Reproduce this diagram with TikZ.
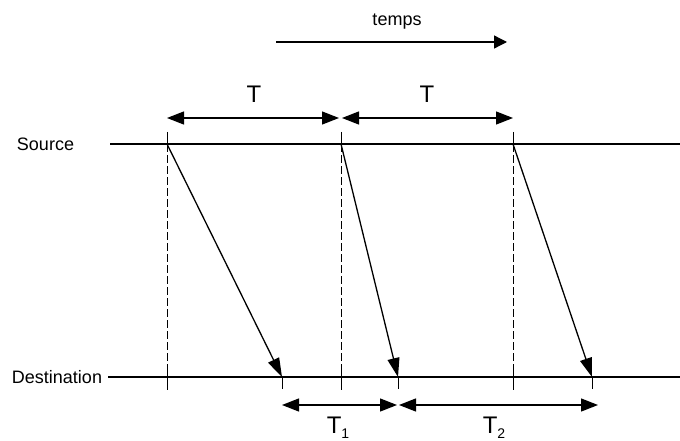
\documentclass[tikz,border=0pt]{standalone}
\usepackage{fontspec}
\setmainfont{Liberation Sans}
\usetikzlibrary{arrows.meta}
\begin{document}
\begin{tikzpicture}[x=1pt,y=-1pt,line width=1.3pt,
  lbl/.style={font=\fontsize{18}{20}\selectfont,inner sep=0pt},
  tlbl/.style={font=\fontsize{24}{26}\selectfont,inner sep=0pt,anchor=base},
  msg/.style={-{Triangle[length=19pt,width=12pt]}},
  span/.style={{Triangle[length=17pt,width=13pt]}-{Triangle[length=17pt,width=13pt]}},
  timearrow/.style={-{Triangle[length=13pt,width=13pt]}},
  guide/.style={line width=0.8pt,dash pattern=on 8pt off 3pt},
  tickline/.style={line width=1pt}]
\useasboundingbox (0,0) rectangle (680,441);
% labels
\node[lbl] (src) at (45.5,144) {Source};
\node[lbl] (dst) at (57,377) {Destination};
\node[lbl] (temps) at (397,22) {temps};
% time axis
\coordinate (tA) at (276,42);
\coordinate (tB) at (507,42);
\draw[timearrow] (tA) -- (tB);
% source / destination lines
\coordinate (srcL) at (110,144);
\coordinate (srcR) at (680,144);
\coordinate (dstL) at (108,377);
\coordinate (dstR) at (680,377);
\draw (srcL) -- (srcR);
\draw (dstL) -- (dstR);
% emission instants
\foreach \i/\x in {1/167,2/341,3/513}{
  \coordinate (s\i) at (\x,144);
  \coordinate (u\i) at (\x,132);
  \coordinate (b\i) at (\x,377);
  \coordinate (bb\i) at (\x,390);
  \coordinate (h\i) at (\x,118);
}
% reception instants
\foreach \i/\x in {1/282,2/398,3/592}{
  \coordinate (d\i) at (\x,377);
  \coordinate (dd\i) at (\x,389);
  \coordinate (k\i) at (\x,405);
}
\foreach \i in {1,2,3}{
  \draw[tickline] (u\i) -- (s\i);
  \draw[guide] (s\i) -- (b\i);
  \draw[tickline] (b\i) ++(0,-8) -- (bb\i);
  \draw[tickline] (d\i) -- (dd\i);
  \draw[msg] (s\i) -- (d\i);
}
% period T
\draw[span] (h1) -- ([xshift=-2pt]h2);
\draw[span] ([xshift=1pt]h2) -- (h3);
\node[tlbl] (T1top) at (254,103) {T};
\node[tlbl] (T2top) at (427,103) {T};
% received intervals
\draw[span] (k1) -- ([xshift=-1pt]k2);
\draw[span] ([xshift=1pt]k2) -- ([xshift=6pt]k3);
\node[tlbl] (Ta) at (338,433) {T\raisebox{-5pt}{\fontsize{14}{14}\selectfont 1}};
\node[tlbl] (Tb) at (494,433) {T\raisebox{-5pt}{\fontsize{14}{14}\selectfont 2}};
\end{tikzpicture}
\end{document}
